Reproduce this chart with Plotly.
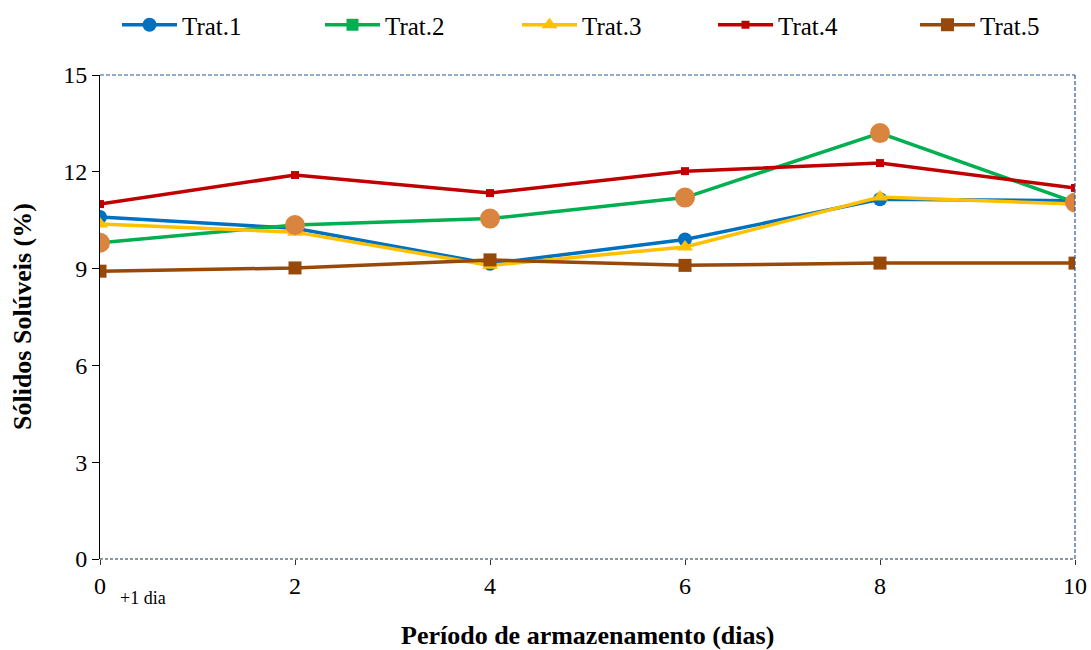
import plotly.graph_objects as go

dias = [0, 2, 4, 6, 8, 10]
tick_labels = ["0", "2", "4", "6", "8", "10"]
trat1 = [10.6, 10.25, 9.15, 9.9, 11.15, 11.1]
trat2 = [9.8, 10.35, 10.55, 11.2, 13.2, 11.05]
trat3 = [10.38, 10.13, 9.1, 9.67, 11.22, 11.0]
trat4 = [11.0, 11.9, 11.34, 12.02, 12.27, 11.5]
trat5 = [8.92, 9.02, 9.27, 9.1, 9.17, 9.17]
destaque = [9.8, 10.35, 10.55, 11.2, 13.2, 11.05]

fnt = "Liberation Serif, Times New Roman, serif"
W, H = 1091, 650

fig = go.Figure()
series = [
    ("Trat.1", trat1, "#0070C0", "circle", 14, 122),
    ("Trat.2", trat2, "#00B050", "square", 12, 325),
    ("Trat.3", trat3, "#FFC000", "triangle-up", 14, 522),
    ("Trat.4", trat4, "#C00000", "square", 8, 718),
    ("Trat.5", trat5, "#984807", "square", 13, 920),
]
legends = {}
for i, (name, vals, col, sym, sz, lx) in enumerate(series):
    key = "legend" if i == 0 else f"legend{i + 1}"
    fig.add_trace(go.Scatter(x=dias, y=vals, name=name, mode="lines+markers",
                             legend=key,
                             line=dict(color=col, width=3.5),
                             marker=dict(color=col, symbol=sym, size=sz)))
    legends[key] = dict(orientation="h", xref="container", yref="container",
                        x=(lx - 5) / W, xanchor="left", y=1 - 25 / H, yanchor="middle",
                        itemwidth=55, font=dict(family=fnt, size=25, color="black"),
                        bgcolor="rgba(0,0,0,0)")
fig.add_trace(go.Scatter(x=dias, y=destaque, mode="markers", showlegend=False,
                         marker=dict(color="#D9843F", size=20)))

fig.update_layout(
    width=W, height=H,
    margin=dict(l=100, r=16, t=75, b=91, autoexpand=False),
    plot_bgcolor="white", paper_bgcolor="white",
    font=dict(family=fnt, size=24, color="black"),
    showlegend=True,
    xaxis=dict(range=[0, 10], tickmode="array", tickvals=dias, ticktext=tick_labels,
               showgrid=False, zeroline=False, showline=False, automargin=False,
               ticks="outside", ticklen=5, tickcolor="#333333",
               tickfont=dict(family=fnt, size=24)),
    yaxis=dict(range=[0, 15], tickvals=[0, 3, 6, 9, 12, 15], automargin=False,
               showgrid=False, zeroline=False, showline=True, linecolor="black", linewidth=1,
               ticks="outside", ticklen=7, tickcolor="black",
               tickfont=dict(family=fnt, size=24)),
    shapes=[
        dict(type="line", xref="paper", yref="paper", x0=0, x1=1, y0=0, y1=0,
             line=dict(color="#1F2A44", width=1.2, dash="3px,2px")),
        dict(type="line", xref="paper", yref="paper", x0=0, x1=1, y0=1, y1=1,
             line=dict(color="#2F5597", width=1.2, dash="4px,2px")),
        dict(type="line", xref="paper", yref="paper", x0=1, x1=1, y0=0, y1=1,
             line=dict(color="#2F5597", width=1.2, dash="4px,2px")),
    ],
    annotations=[
        dict(text="+1 dia", xref="x", yref="paper", x=0.185, y=0, yshift=-39,
             showarrow=False, xanchor="left", yanchor="middle",
             font=dict(family=fnt, size=18, color="black")),
        dict(text="<b>Período de armazenamento (dias)</b>", xref="paper", yref="paper",
             x=0.5, y=0, yshift=-76, showarrow=False, xanchor="center", yanchor="middle",
             font=dict(family=fnt, size=26, color="black")),
        dict(text="<b>Sólidos Solúveis (%)</b>", xref="paper", yref="paper",
             x=0, xshift=-78, y=0.5, textangle=-90, showarrow=False,
             xanchor="center", yanchor="middle",
             font=dict(family=fnt, size=26, color="black")),
    ],
)
fig.update_layout(**legends)
fig.write_html("out.html", config={"displayModeBar": False},
               post_script="document.body.style.margin='0';document.body.style.overflow='hidden';")
